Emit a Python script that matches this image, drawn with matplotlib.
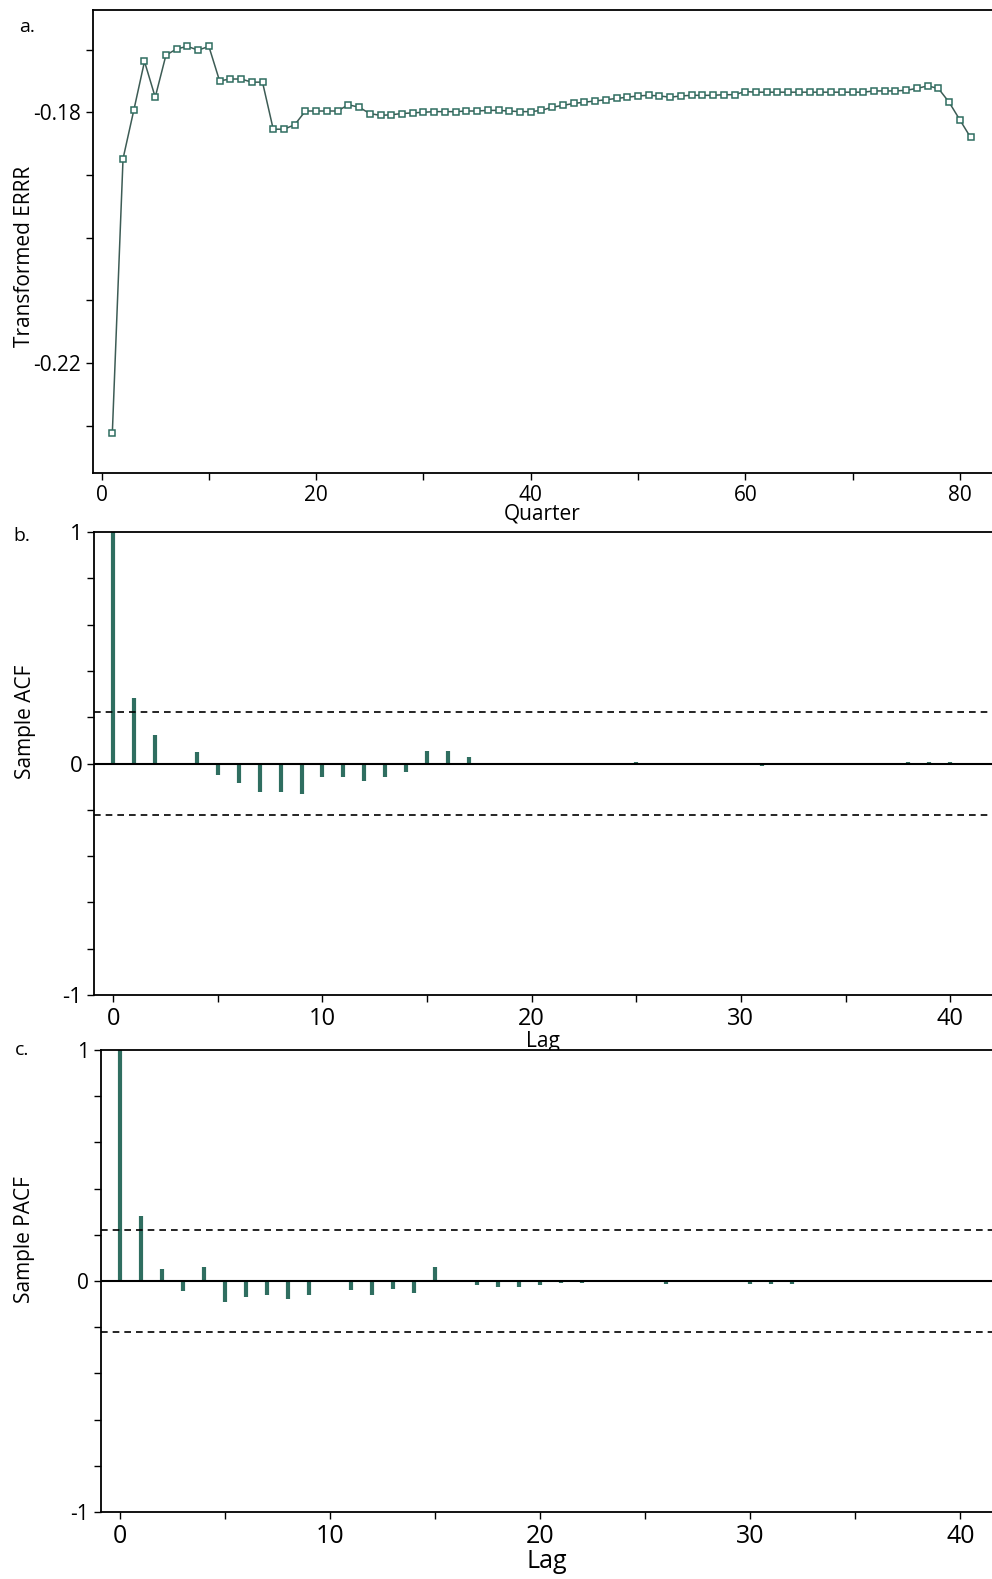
import matplotlib.pyplot as plt
import numpy as np

plt.rcParams['font.family'] = ['Open Sans', 'DejaVu Sans']

# 季度序列 (a)
quarters = list(range(1, 82))
errr = [-0.2312, -0.1874, -0.1797, -0.1719, -0.1776, -0.1709, -0.1699, -0.1695, -0.1701, -0.1695,
        -0.1750, -0.1747, -0.1747, -0.1752, -0.1752, -0.1827, -0.1827, -0.1820, -0.1798, -0.1798,
        -0.1798, -0.1798, -0.1788, -0.1792, -0.1802, -0.1805, -0.1804, -0.1802, -0.1801, -0.1800,
        -0.1799, -0.1799, -0.1799, -0.1798, -0.1798, -0.1797, -0.1797, -0.1798, -0.1799, -0.1799,
        -0.1797, -0.1792, -0.1789, -0.1786, -0.1784, -0.1782, -0.1780, -0.1778, -0.1776, -0.1774,
        -0.1773, -0.1774, -0.1776, -0.1774, -0.1773, -0.1773, -0.1773, -0.1772, -0.1772, -0.1767,
        -0.1768, -0.1768, -0.1768, -0.1768, -0.1768, -0.1768, -0.1768, -0.1768, -0.1768, -0.1768,
        -0.1768, -0.1766, -0.1766, -0.1766, -0.1765, -0.1762, -0.1758, -0.1762, -0.1784, -0.1812,
        -0.1840]

# 自相关 (b) 和偏自相关 (c)
lags = list(range(0, 41))
acf = [1.0, 0.281, 0.125, 0.0, 0.050, -0.050, -0.086, -0.122, -0.122, -0.132,
       -0.058, -0.060, -0.075, -0.060, -0.036, 0.055, 0.053, 0.029, 0.0, 0.0,
       0.0, 0.0, -0.008, 0.0, 0.0, 0.006, 0.0, 0.0, 0.0, 0.0,
       -0.008, -0.010, -0.008, -0.006, 0.0, 0.0, 0.0, 0.0, 0.006, 0.007, 0.006]
pacf = [1.0, 0.280, 0.052, -0.043, 0.061, -0.091, -0.069, -0.062, -0.077, -0.062,
        0.0, -0.040, -0.062, -0.035, -0.051, 0.061, 0.0, -0.018, -0.025, -0.028,
        -0.018, -0.010, -0.008, 0.0, 0.006, 0.0, -0.012, 0.0, 0.0, 0.0,
        -0.012, -0.015, -0.012, 0.0, 0.0, 0.0, 0.0, 0.0, 0.0, 0.0, 0.0]
conf = 0.2209

W, H = 992, 1579
teal = '#2f6e60'
line_c = '#3d5c55'

fig = plt.figure(figsize=(W / 100, H / 100), dpi=100)

def box(x0, y0, y1):
    # 像素坐标 -> figure 坐标
    return [x0 / W, 1 - y1 / H, (W - x0) / W, (y1 - y0) / H]

# ---- a ----
ax1 = fig.add_axes(box(93, 10, 473))
ax1.plot(quarters, errr, color=line_c, lw=1.1, marker='s', ms=4.5,
         mfc='white', mec=teal, mew=1.1)
ax1.set_xlim(-0.8, 83.0)
ax1.set_ylim(-0.2375, -0.1637)
ax1.set_xticks(np.arange(0, 81, 10))
ax1.set_xticklabels(['0', '', '20', '', '40', '', '60', '', '80'])
ax1.set_yticks([-0.23, -0.22, -0.21, -0.20, -0.19, -0.18, -0.17])
ax1.set_yticklabels(['', '-0.22', '', '', '', '-0.18', ''])
ax1.tick_params(labelsize=15, length=5, width=1)
ax1.set_ylabel('Transformed ERRR', fontsize=15)
ax1.yaxis.set_label_coords(-0.064, 0.467)
ax1.set_xlabel('Quarter', fontsize=15, labelpad=-2)

# ---- b ----
ax2 = fig.add_axes(box(94, 532, 995))
ax2.vlines(lags, 0, acf, color=teal, lw=3)
ax2.axhline(0, color='black', lw=1.5)
ax2.axhline(conf, color='black', lw=1.2, ls=(0, (4, 3)))
ax2.axhline(-conf, color='black', lw=1.2, ls=(0, (4, 3)))
ax2.set_xlim(-0.92, 42.0)
ax2.set_ylim(-1, 1)
ax2.set_xticks(np.arange(0, 41, 5))
ax2.set_xticklabels(['0', '', '10', '', '20', '', '30', '', '40'])
ax2.set_yticks(np.arange(-1, 1.01, 0.2))
ax2.set_yticklabels(['-1', '', '', '', '', '0', '', '', '', '', '1'])
ax2.tick_params(axis='x', labelsize=17, length=5, width=1)
ax2.tick_params(axis='y', labelsize=16, length=5, width=1)
ax2.set_ylabel('Sample ACF', fontsize=15)
ax2.yaxis.set_label_coords(-0.065, 0.59)
ax2.set_xlabel('Lag', fontsize=15, labelpad=0)

# ---- c ----
ax3 = fig.add_axes(box(101, 1050, 1512))
ax3.vlines(lags, 0, pacf, color=teal, lw=3)
ax3.axhline(0, color='black', lw=1.5)
ax3.axhline(conf, color='black', lw=1.2, ls=(0, (4, 3)))
ax3.axhline(-conf, color='black', lw=1.2, ls=(0, (4, 3)))
ax3.set_xlim(-0.9, 41.5)
ax3.set_ylim(-1, 1)
ax3.set_xticks(np.arange(0, 41, 5))
ax3.set_xticklabels(['0', '', '10', '', '20', '', '30', '', '40'])
ax3.set_yticks(np.arange(-1, 1.01, 0.2))
ax3.set_yticklabels(['-1', '', '', '', '', '0', '', '', '', '', '1'])
ax3.tick_params(axis='x', labelsize=18, length=5, width=1)
ax3.tick_params(axis='y', labelsize=15, length=5, width=1)
ax3.set_ylabel('Sample PACF', fontsize=15)
ax3.yaxis.set_label_coords(-0.074, 0.59)
ax3.set_xlabel('Lag', fontsize=18, labelpad=0)

for ax in (ax1, ax2, ax3):
    ax.spines['right'].set_visible(False)
    for s in ('left', 'top', 'bottom'):
        ax.spines[s].set_linewidth(1.3)

fig.text(27 / W, 1 - 27 / H, 'a.', fontsize=14, ha='center', va='center')
fig.text(22 / W, 1 - 536 / H, 'b.', fontsize=14, ha='center', va='center')
fig.text(22 / W, 1 - 1050 / H, 'c.', fontsize=14, ha='center', va='center')

fig.savefig('out.png', dpi=100)
